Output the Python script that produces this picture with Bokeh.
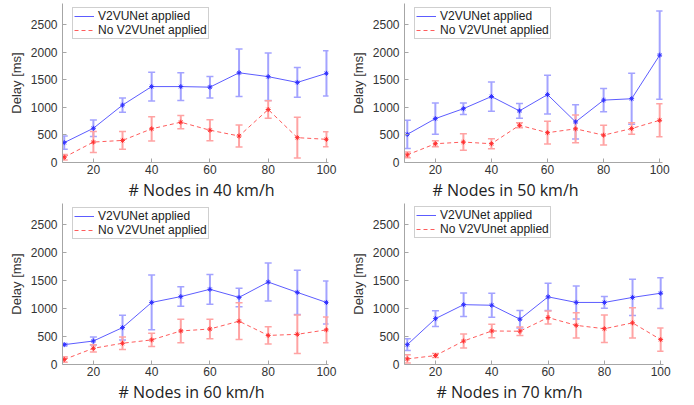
from bokeh.plotting import figure
from bokeh.layouts import column, row
from bokeh.models import ColumnDataSource, Whisker, TeeHead, Legend, LegendItem, Title
from bokeh.embed import file_html
from bokeh.resources import INLINE

nodes = [10, 20, 30, 40, 50, 60, 70, 80, 90, 100]

# 40 km/h
v40_mean = [360, 620, 1040, 1375, 1375, 1365, 1625, 1555, 1450, 1615]
v40_err = [120, 150, 130, 260, 250, 195, 430, 430, 270, 410]
n40_mean = [95, 370, 400, 610, 730, 585, 480, 960, 450, 420]
n40_err = [50, 190, 160, 220, 120, 190, 200, 160, 370, 135]

# 50 km/h
v50_mean = [510, 795, 975, 1195, 935, 1230, 735, 1130, 1155, 1945]
v50_err = [255, 285, 105, 265, 135, 350, 310, 210, 460, 800]
n50_mean = [138, 340, 370, 340, 675, 540, 610, 495, 615, 765]
n50_err = [50, 55, 150, 90, 45, 205, 250, 180, 105, 300]

# 60 km/h
v60_mean = [355, 420, 660, 1110, 1215, 1345, 1200, 1475, 1290, 1110]
v60_err = [20, 70, 220, 490, 175, 265, 165, 340, 395, 385]
n60_mean = [90, 290, 380, 440, 600, 635, 775, 520, 540, 620]
n60_err = [50, 65, 110, 120, 210, 175, 330, 155, 345, 230]

# 70 km/h
v70_mean = [355, 820, 1070, 1060, 810, 1210, 1110, 1110, 1200, 1275]
v70_err = [105, 140, 210, 215, 155, 245, 295, 105, 325, 275]
n70_mean = [100, 160, 420, 600, 595, 840, 700, 640, 745, 445]
n70_err = [75, 35, 125, 120, 75, 115, 225, 245, 270, 210]

speeds = ["40", "50", "60", "70"]
series = {
    "40": (v40_mean, v40_err, n40_mean, n40_err),
    "50": (v50_mean, v50_err, n50_mean, n50_err),
    "60": (v60_mean, v60_err, n60_mean, n60_err),
    "70": (v70_mean, v70_err, n70_mean, n70_err),
}
y_ticks = [0, 500, 1000, 1500, 2000, 2500]
x_ticks = [20, 40, 60, 80, 100]
legend_labels = ["V2VUNet applied", "No V2VUnet applied"]

# layout per panel: width, height, left, right, top, bottom borders, x range, label offset
layout = {
    "40": dict(w=347, h=200, l=62, r=19, t=3, b=37, xs=9.4, xe=100.7, off=66),
    "50": dict(w=347, h=200, l=48, r=32, t=3, b=37, xs=9.0, xe=101.0, off=28),
    "60": dict(w=347, h=205, l=62, r=19, t=2, b=41, xs=9.4, xe=100.7, off=56),
    "70": dict(w=347, h=205, l=49, r=31, t=3, b=39, xs=9.0, xe=101.0, off=32),
}

BLUE = "#5c5cff"
BLUE_ERR = "#a3a3ff"
RED = "#ff5c5c"
RED_ERR = "#ffa3a3"
AXIS = "#a6a6a6"
TXT = "#333333"


def make_panel(sp):
    vm, ve, nm, ne = series[sp]
    L = layout[sp]
    p = figure(width=L["w"], height=L["h"], output_backend="svg", toolbar_location=None,
               x_range=(L["xs"], L["xe"]), y_range=(0, 2880),
               min_border_left=L["l"], min_border_right=L["r"],
               min_border_top=L["t"], min_border_bottom=L["b"])
    p.outline_line_color = None
    p.grid.visible = False
    p.background_fill_color = "white"
    p.border_fill_color = "white"

    for ax in (p.xaxis[0], p.yaxis[0]):
        ax.axis_line_color = AXIS
        ax.major_tick_line_color = AXIS
        ax.minor_tick_line_color = None
        ax.major_tick_in = 4
        ax.major_tick_out = 0
        ax.major_label_text_font = "Liberation Sans"
        ax.major_label_text_font_size = "12px"
        ax.major_label_text_color = TXT
    p.xaxis.ticker = x_ticks
    p.yaxis.ticker = y_ticks
    p.yaxis.major_label_standoff = 5
    p.xaxis.major_label_standoff = 2
    p.yaxis.axis_label = "Delay [ms]"
    p.yaxis.axis_label_text_font = "Liberation Sans"
    p.yaxis.axis_label_text_font_style = "normal"
    p.yaxis.axis_label_text_font_size = "13px"
    p.yaxis.axis_label_text_color = TXT
    p.yaxis.axis_label_standoff = 4

    t = Title(text="# Nodes in %s km/h" % sp, align="left", offset=L["off"],
              text_font="Open Sans", text_font_size="16px", text_font_style="normal",
              text_color="#222222", standoff=0, text_line_height=0.9)
    p.add_layout(t, "below")

    vsrc = ColumnDataSource(dict(x=nodes, y=vm,
                                 lo=[m - e for m, e in zip(vm, ve)],
                                 hi=[m + e for m, e in zip(vm, ve)]))
    nsrc = ColumnDataSource(dict(x=nodes, y=nm,
                                 lo=[m - e for m, e in zip(nm, ne)],
                                 hi=[m + e for m, e in zip(nm, ne)]))

    for src, col in ((vsrc, BLUE_ERR), (nsrc, RED_ERR)):
        w = Whisker(base="x", lower="lo", upper="hi", source=src,
                    line_color=col, line_width=2,
                    upper_head=TeeHead(size=7, line_color=col, line_width=1.5),
                    lower_head=TeeHead(size=7, line_color=col, line_width=1.5))
        p.add_layout(w)

    lv = p.line("x", "y", source=vsrc, line_color=BLUE, line_width=1)
    p.scatter("x", "y", source=vsrc, marker="asterisk", size=5, line_color="#3030ff", line_width=1)
    ln = p.line("x", "y", source=nsrc, line_color=RED, line_width=1, line_dash="4 3")
    p.scatter("x", "y", source=nsrc, marker="asterisk", size=5, line_color="#ff3030", line_width=1)

    fh = L["h"] - L["t"] - L["b"]
    leg = Legend(items=[LegendItem(label=legend_labels[0], renderers=[lv]),
                        LegendItem(label=legend_labels[1], renderers=[ln])],
                 location=(10, fh - 37), orientation="vertical",
                 label_text_font="Liberation Sans", label_text_font_size="12px",
                 label_text_color="#222222", label_height=12, glyph_height=12,
                 glyph_width=20, label_standoff=4, padding=1, spacing=0, margin=0,
                 border_line_color="#a0a0a0", border_line_width=1,
                 background_fill_color="white", background_fill_alpha=1.0)
    p.add_layout(leg, "center")
    return p


panels = {sp: make_panel(sp) for sp in speeds}
layout_all = column(row(panels["40"], panels["50"]), row(panels["60"], panels["70"]))

open("out.html", "w").write(file_html(layout_all, INLINE))
